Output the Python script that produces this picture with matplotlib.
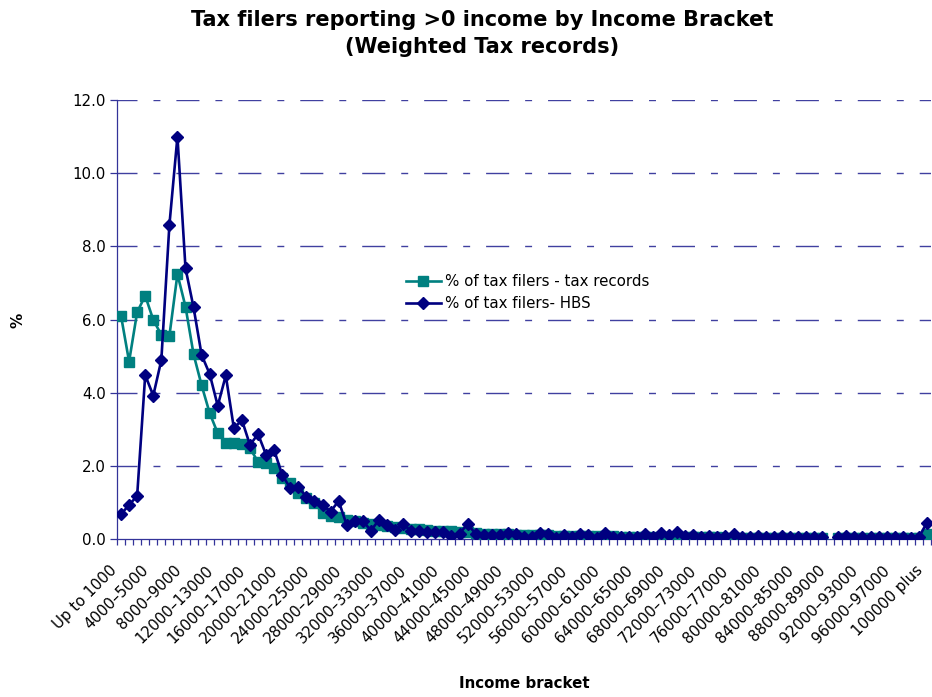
import numpy as np
import matplotlib
matplotlib.use("Agg")
import matplotlib.pyplot as plt
import matplotlib.transforms as mtransforms
from matplotlib.ticker import FormatStrFormatter

plt.rcParams['font.family'] = ['DejaVu Sans']
plt.rcParams['lines.scale_dashes'] = False

# Income brackets: "Up to 1000", 1000-2000 ... 99000-100000, "100000 plus"
brackets = ["Up to 1000"]
for lo in range(1000, 100000, 1000):
    sep = "-" if lo == 88000 else "\u2013"
    brackets.append(f"{lo}{sep}{lo + 1000}")
brackets.append("100000 plus")

nan = np.nan

# % of tax filers - tax records
tax_records = [
    6.10, 4.85, 6.20, 6.65, 5.99, 5.58, 5.55, 7.24, 6.35, 5.05,
    4.20, 3.44, 2.89, 2.63, 2.62, 2.59, 2.48, 2.11, 2.09, 1.93,
    1.68, 1.54, 1.25, 1.11, 0.98, 0.72, 0.63, 0.61, 0.52, 0.48,
    0.45, 0.42, 0.38, 0.35, 0.32, 0.30, 0.28, 0.26, 0.24, 0.23,
    0.22, 0.21, 0.20, 0.19, 0.17, 0.15, 0.14, 0.14, 0.13, 0.12,
    0.12, 0.11, 0.10, 0.10, 0.09, 0.09, 0.08, 0.08, 0.08, 0.07,
    0.07, 0.07, 0.06, 0.06, 0.06, 0.06, 0.06, 0.05, 0.05, 0.05,
    0.05, 0.05, 0.05, 0.05, 0.05, 0.04, 0.04, 0.04, 0.04, 0.04,
    0.04, 0.04, 0.04, 0.04, 0.03, 0.03, 0.03, 0.03, nan, 0.03,
    0.03, 0.03, 0.03, 0.03, 0.03, 0.03, 0.03, 0.03, 0.03, 0.03,
    0.14,
]

# % of tax filers - HBS
hbs = [
    0.68, 0.93, 1.18, 4.48, 3.92, 4.89, 8.58, 11.00, 7.40, 6.33,
    5.03, 4.51, 3.64, 4.47, 3.03, 3.25, 2.57, 2.87, 2.30, 2.43,
    1.75, 1.39, 1.41, 1.16, 1.05, 0.93, 0.75, 1.04, 0.38, 0.49,
    0.50, 0.23, 0.52, 0.38, 0.25, 0.40, 0.22, 0.22, 0.18, 0.18,
    0.18, 0.09, 0.15, 0.41, 0.14, 0.11, 0.10, 0.10, 0.17, 0.14,
    0.06, 0.06, 0.17, 0.15, 0.02, 0.11, 0.06, 0.13, 0.10, 0.04,
    0.17, 0.05, 0.05, 0.06, 0.05, 0.13, 0.06, 0.17, 0.10, 0.18,
    0.07, 0.11, 0.06, 0.07, 0.06, 0.07, 0.14, 0.06, 0.06, 0.07,
    0.06, 0.06, 0.07, 0.06, 0.05, 0.06, 0.05, 0.05, nan, 0.06,
    0.07, 0.05, 0.06, 0.05, 0.05, 0.05, 0.05, 0.05, 0.04, 0.05,
    0.45,
]

axis_col = "#333399"
x = np.arange(len(brackets))

fig = plt.figure(figsize=(9.32, 6.97), dpi=100)
ax = fig.add_axes([117 / 932, 1 - 539 / 697, 814 / 932, 439 / 697])

# dashed gridlines (long - short pattern)
for yv in [2, 4, 6, 8, 10, 12]:
    ax.axhline(yv, color="#4040a0", lw=1.0,
               linestyle=(2.2, (16.6, 11.5, 5.0, 11.5)), zorder=1)

ax.plot(x, tax_records, color="#008080", lw=1.9, marker="s", markersize=7,
        label="% of tax filers - tax records", zorder=3)
ax.plot(x, hbs, color="#000080", lw=1.9, marker="D", markersize=6,
        label="% of tax filers- HBS", zorder=4)

ax.set_xlim(-0.5, len(brackets) - 0.5)
ax.set_ylim(0, 12)
ax.set_yticks(np.arange(0, 13, 2))
ax.yaxis.set_major_formatter(FormatStrFormatter("%.1f"))

ax.set_xticks(x[::4])
ax.set_xticklabels(brackets[::4], rotation=45, ha="right", va="center",
                   rotation_mode="anchor")
ax.set_xticks(np.arange(-0.5, len(brackets), 1), minor=True)
ax.tick_params(axis="x", which="major", length=0, pad=21, labelsize=10.8)
ax.tick_params(axis="x", which="minor", length=4, color=axis_col, width=0.9)
ax.tick_params(axis="y", length=5, color=axis_col, width=0.9, labelsize=10.8, pad=3)

# nudge the slanted labels a little to the left, as in the original
shift = mtransforms.ScaledTranslation(-7 / 100, 0, fig.dpi_scale_trans)
for lab in ax.get_xticklabels():
    lab.set_transform(lab.get_transform() + shift)

for side in ["top", "right"]:
    ax.spines[side].set_visible(False)
for side in ["left", "bottom"]:
    ax.spines[side].set_color(axis_col)
    ax.spines[side].set_linewidth(0.9)

fig.text(482 / 932, 1 - 10 / 697,
         "Tax filers reporting >0 income by Income Bracket\n(Weighted Tax records)",
         ha="center", va="top", fontsize=15, fontweight="bold", linespacing=1.45)
fig.text(18 / 932, 1 - 320 / 697, "%", rotation=90, ha="center", va="center",
         fontsize=11, fontweight="bold")
fig.text(524 / 932, 1 - 683 / 697, "Income bracket", ha="center", va="center",
         fontsize=10.8, fontweight="bold")

ax.legend(loc="upper left", bbox_to_anchor=(400 / 932, 1 - 268 / 697),
          bbox_transform=fig.transFigure, frameon=False, fontsize=10.8,
          handlelength=2.3, handletextpad=0.3, labelspacing=0.45,
          borderaxespad=0)

fig.savefig("out.png", dpi=100)
